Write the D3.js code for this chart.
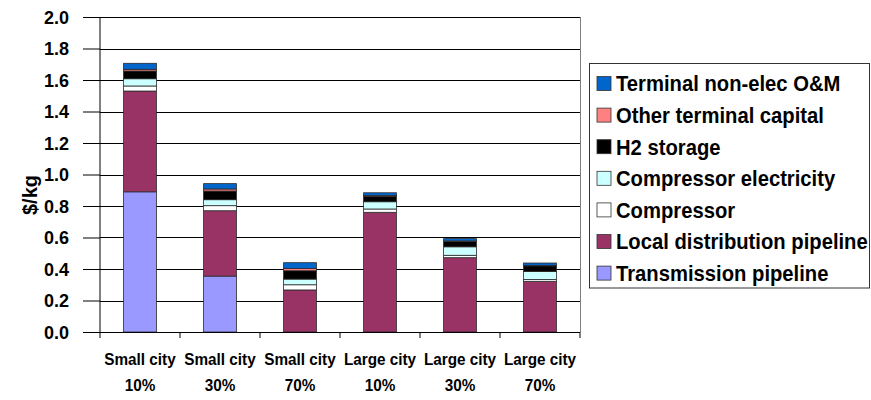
<!DOCTYPE html>
<html><head><meta charset="utf-8">
<script src="https://cdn.jsdelivr.net/npm/d3@7"></script>
<style>
body{margin:0;background:#fff;}
text{font-family:Arial,"Liberation Sans",sans-serif;font-weight:bold;fill:#000;}
</style></head>
<body><svg id="c" width="871" height="400"></svg>
<script>
const categories = [["Small city","10%"],["Small city","30%"],["Small city","70%"],["Large city","10%"],["Large city","30%"],["Large city","70%"]];
const seriesNames = ["Transmission pipeline","Local distribution pipeline","Compressor","Compressor electricity","H2 storage","Other terminal capital","Terminal non-elec O&M"];
const seriesColors = ["#9999FF","#993366","#FFFFFF","#CCFFFF","#000000","#FF8080","#0066CC"];
const transmission   = [0.89, 0.355, 0,     0,     0,     0];
const localDist      = [0.64, 0.415, 0.267, 0.76,  0.472, 0.322];
const compressor     = [0.032,0.032, 0.033, 0.021, 0.015, 0.012];
const compressorElec = [0.046,0.038, 0.036, 0.046, 0.054, 0.05];
const h2Storage      = [0.049,0.055, 0.053, 0.035, 0.033, 0.036];
const otherTerminal  = [0.011,0.013, 0.015, 0.004, 0.004, 0.003];
const terminalOM     = [0.038,0.034, 0.036, 0.018, 0.015, 0.015];
const yTicks = [0,0.2,0.4,0.6,0.8,1.0,1.2,1.4,1.6,1.8,2.0];

(function(){
const seriesValues = [transmission, localDist, compressor, compressorElec, h2Storage, otherTerminal, terminalOM];
const rows = categories.map((c,i)=>{const r={cat:i}; seriesNames.forEach((s,j)=>r[s]=seriesValues[j][i]); return r;});
const stack = d3.stack().keys(seriesNames)(rows);

const svg = d3.select("#c");
const pL=100,pR=580,pT=17,pB=332;
const x = d3.scaleBand().domain(categories.map((d,i)=>i)).range([pL,pR]).padding(0);
const y = d3.scaleLinear().domain([0,2]).range([pB,pT]);
const barW = x.bandwidth()*0.41;

// gridlines
svg.append("g").selectAll("line").data(yTicks.filter(t=>t>0)).join("line")
  .attr("x1",pL).attr("x2",pR).attr("y1",d=>Math.round(y(d))+0.5).attr("y2",d=>Math.round(y(d))+0.5)
  .attr("stroke","#000").attr("stroke-width",1);
// plot border right
svg.append("line").attr("x1",pR+0.5).attr("x2",pR+0.5).attr("y1",pT).attr("y2",pB)
  .attr("stroke","#808080");

// bars
svg.append("g").selectAll("g").data(stack).join("g")
  .attr("fill",(d,i)=>seriesColors[i])
  .selectAll("rect").data(d=>d).join("rect")
  .attr("x",(d,i)=>x(i)+x.bandwidth()/2-barW/2)
  .attr("width",barW)
  .attr("y",d=>y(d[1]))
  .attr("height",d=>Math.max(0,y(d[0])-y(d[1])))
  .attr("stroke",d=>(d[1]-d[0])>0?"#2a2a2a":"none").attr("stroke-width",0.8);

// y axis
const yAxis = d3.axisLeft(y).tickValues(yTicks).tickFormat(d3.format(".1f")).tickSize(17).tickPadding(14);
const ya = svg.append("g").attr("transform",`translate(${pL},0)`).call(yAxis);
ya.selectAll("text").style("font-size","18px").attr("dy","0.35em").style("font-family","Arial, 'Liberation Sans', sans-serif");
ya.selectAll("line,path").attr("stroke","#000");
ya.select(".domain").attr("d",`M0,${pT}V${pB}`);

// x axis
const xa = svg.append("g").attr("transform",`translate(0,${pB})`);
xa.append("line").attr("x1",pL).attr("x2",pR).attr("y1",0.5).attr("y2",0.5).attr("stroke","#000");
xa.selectAll("line.t").data(d3.range(categories.length+1)).join("line").attr("class","t")
  .attr("x1",d=>pL+d*x.step()).attr("x2",d=>pL+d*x.step()).attr("y1",0).attr("y2",6).attr("stroke","#000");
const lab = xa.selectAll("text").data(categories).join("text")
  .attr("text-anchor","middle").style("font-size","17px")
  .attr("transform",(d,i)=>`translate(${x(i)+x.bandwidth()/2},0) scale(0.9,1)`);
lab.append("tspan").attr("x",0).attr("y",33).text(d=>d[0]);
lab.append("tspan").attr("x",0).attr("y",59).text(d=>d[1]);

// y label
svg.append("text").attr("transform","translate(37,195) rotate(-90)").attr("text-anchor","middle")
  .style("font-size","20px").text("$/kg");

// legend
const lg = svg.append("g");
lg.append("rect").attr("x",589.5).attr("y",63.5).attr("width",280).attr("height",224.5)
  .attr("fill","#fff").attr("stroke","#333");
const order = seriesNames.map((n,i)=>i).reverse();
const li = lg.selectAll("g.it").data(order).join("g").attr("class","it")
  .attr("transform",(d,k)=>`translate(597,${83.5+k*31.6})`);
li.append("rect").attr("x",0).attr("y",-7).attr("width",14).attr("height",14)
  .attr("fill",d=>seriesColors[d]).attr("stroke","#333").attr("stroke-width",0.8);
li.append("text").attr("transform","translate(19,0) scale(0.92,1)").attr("dy","0.36em").style("font-size","22px")
  .text(d=>seriesNames[d]);
})();
</script></body></html>
